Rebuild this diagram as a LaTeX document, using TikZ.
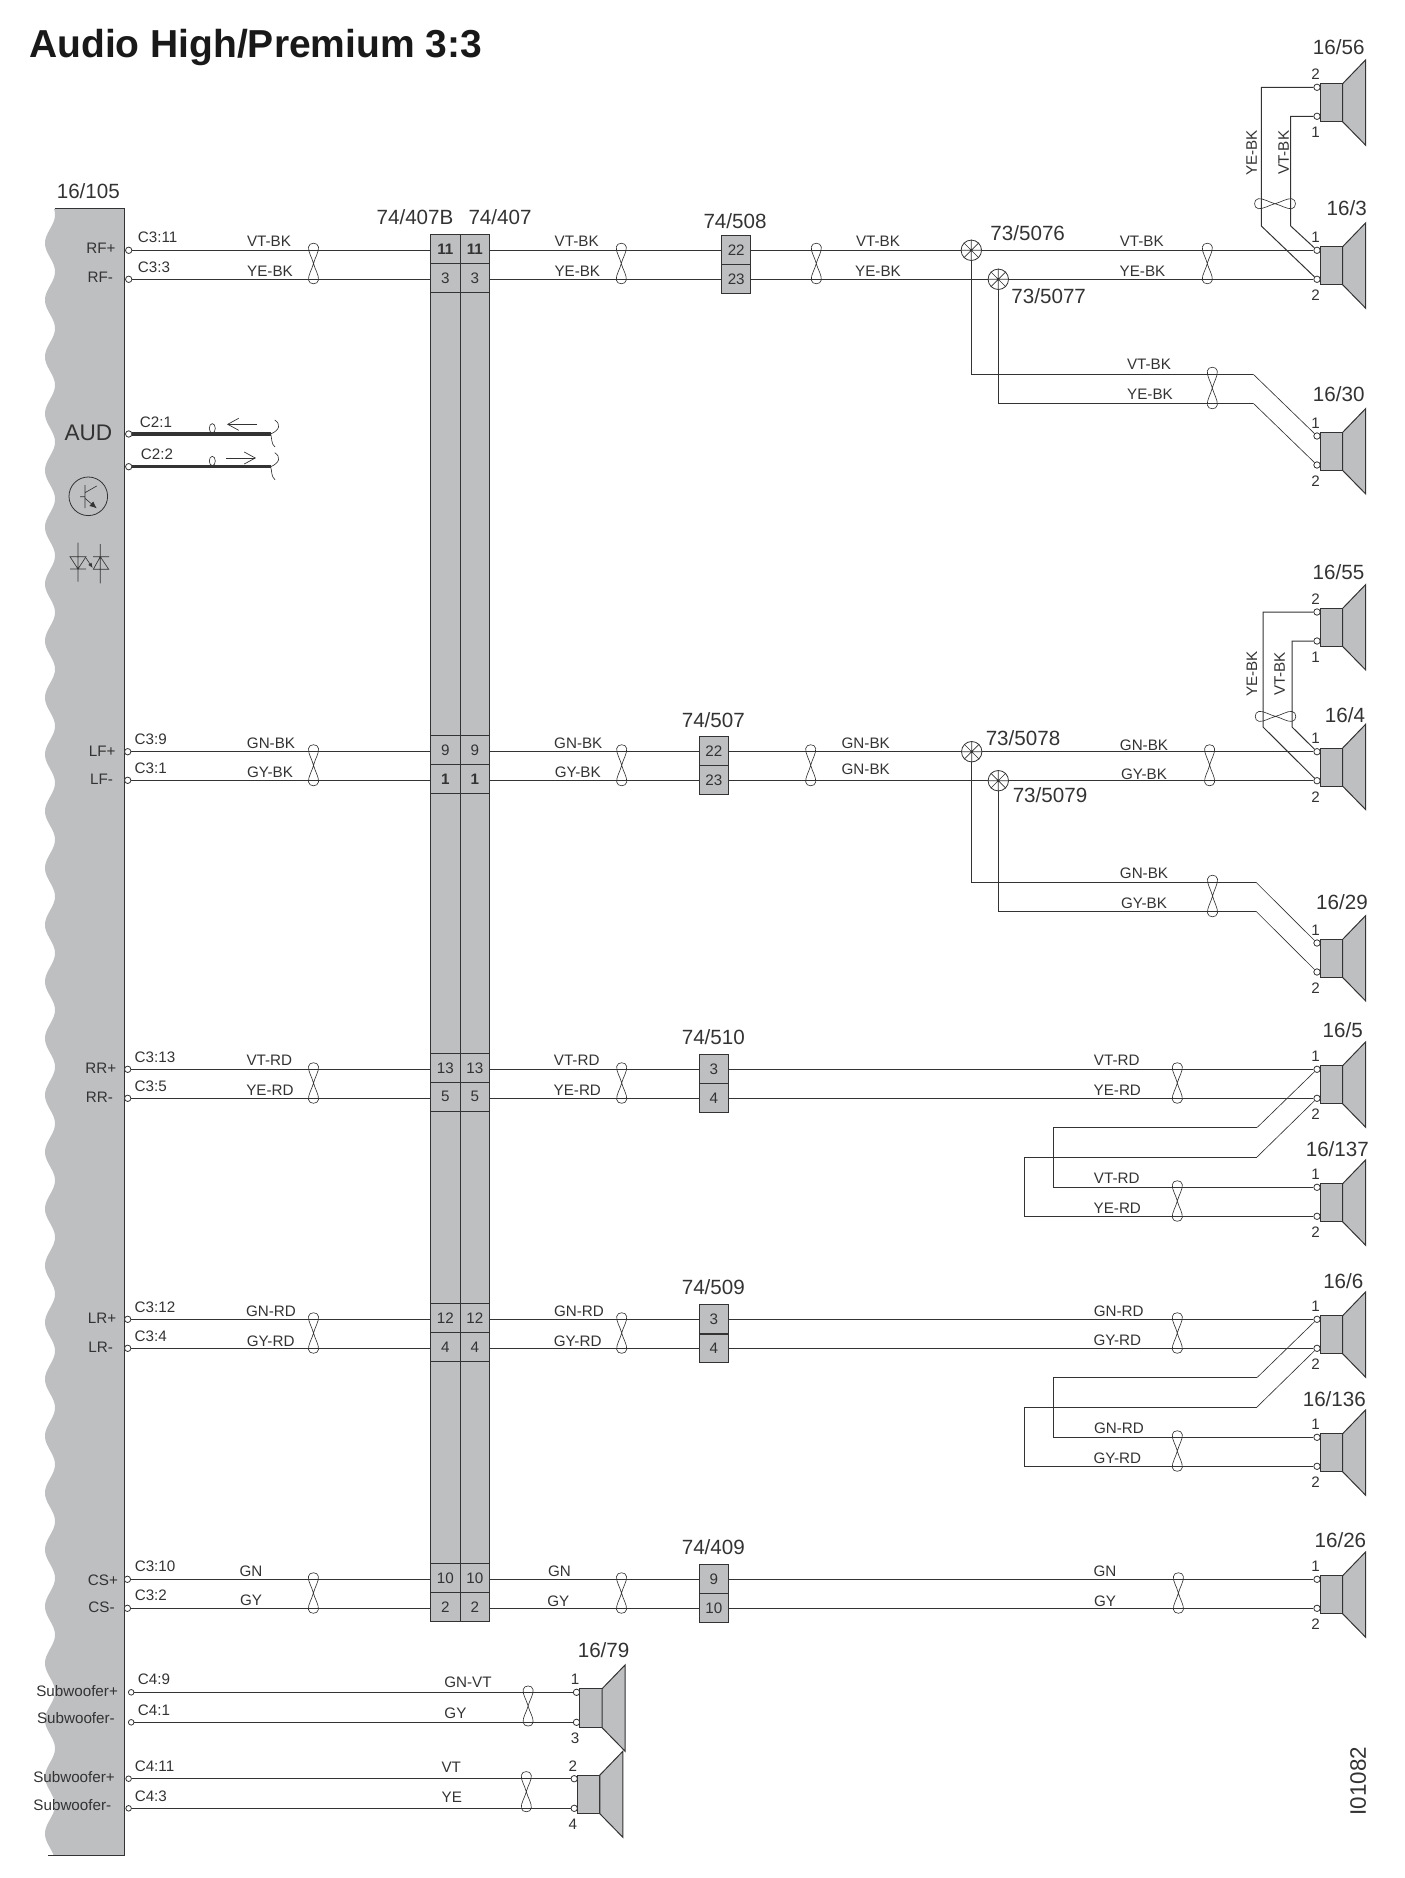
\documentclass[tikz,border=0pt]{standalone}
\usepackage{fontspec}
\setmainfont{Liberation Sans}
\usetikzlibrary{arrows.meta,calc}
\definecolor{pgray}{HTML}{BEBFC1}
\definecolor{ln}{HTML}{333333}
\tikzset{
  wire/.style={draw=ln,line width=0.5pt},
  thinw/.style={draw=ln,line width=0.32pt},
  part/.style={draw=ln,fill=pgray,line width=0.5pt},
  txs/.style={inner sep=0pt,text=ln,text depth=0pt,font=\fontsize{7.6}{9}\selectfont},
  txb/.style={inner sep=0pt,text=ln,text depth=0pt,font=\fontsize{10.3}{12}\selectfont},
  term/.style={circle,draw=ln,fill=white,inner sep=0pt,line width=0.4pt,minimum size=3.2pt},
  subterm/.style={term,minimum size=2.8pt},
  cellbox/.style={rectangle,draw=ln,fill=pgray,inner sep=0pt,line width=0.5pt,minimum width=14.5pt,minimum height=14.5pt,text=ln,font=\fontsize{7.6}{9}\selectfont},
  splice/.style={circle,draw=ln,fill=white,inner sep=0pt,line width=0.4pt,minimum size=10.2pt},
  oar/.style={draw=ln,line width=0.35pt,-{Straight Barb[length=5.5pt,width=6pt]}},
}
% vertical twist mark: x, top, bottom
\newcommand\twist[3]{%
  \pgfmathsetmacro\twm{(#2+#3)/2}%
  \draw[thinw] (#1,\twm) .. controls ({#1-1.5},{\twm-6}) and ({#1-5.5},{#2+9}) .. ({#1-5},{#2+4})
    .. controls ({#1-4.5},{#2-1}) and ({#1+4.5},{#2-1}) .. ({#1+5},{#2+4})
    .. controls ({#1+5.5},{#2+9}) and ({#1+1.5},{\twm-6}) .. (#1,\twm)
    .. controls ({#1-1.5},{\twm+6}) and ({#1-5.5},{#3-9}) .. ({#1-5},{#3-4})
    .. controls ({#1-4.5},{#3+1}) and ({#1+4.5},{#3+1}) .. ({#1+5},{#3-4})
    .. controls ({#1+5.5},{#3-9}) and ({#1+1.5},{\twm+6}) .. (#1,\twm);}
% horizontal twist mark: y, left, right
\newcommand\htwist[3]{%
  \pgfmathsetmacro\twm{(#2+#3)/2}%
  \draw[thinw] (\twm,#1) .. controls ({\twm-6},{#1-1.5}) and ({#2+9},{#1-5.5}) .. ({#2+4},{#1-5})
    .. controls ({#2-1},{#1-4.5}) and ({#2-1},{#1+4.5}) .. ({#2+4},{#1+5})
    .. controls ({#2+9},{#1+5.5}) and ({\twm-6},{#1+1.5}) .. (\twm,#1)
    .. controls ({\twm+6},{#1-1.5}) and ({#3-9},{#1-5.5}) .. ({#3-4},{#1-5})
    .. controls ({#3+1},{#1-4.5}) and ({#3+1},{#1+4.5}) .. ({#3-4},{#1+5})
    .. controls ({#3-9},{#1+5.5}) and ({\twm+6},{#1+1.5}) .. (\twm,#1);}
% speaker: name, body left, y of pin a, y of pin b, number a, number b
\newcommand\spk[6]{%
  \node[term] (#1-a) at ({#2-3},#3) {};
  \node[term] (#1-b) at ({#2-3},#4) {};
  \draw[part] (#2,{#3-3.7}) rectangle ({#2+22.7},{#4+5.5});
  \draw[part] ({#2+22.7},{#3-3.7}) -- ({#2+45.7},{#3-27.5}) -- ({#2+45.7},{#4+29}) -- ({#2+22.7},{#4+5.5}) -- cycle;
  \node[txs] (#1-na) at ({#2-4.3},{#3-13}) {#5};
  \node[txs] (#1-nb) at ({#2-4.3},{#4+16}) {#6};}
% row of the tall connector: id, wire y, number
\newcommand\bigrow[3]{%
  \node[cellbox,minimum width=14.9pt] (b#1) at (445.4,{#2-1.5}) {#3};
  \node[cellbox] (a#1) at (474.8,{#2-1.5}) {#3};}
% inline connector: name, centre x, y1, y2, n1, n2
\newcommand\inl[6]{%
  \node[cellbox] (#1-1) at (#2,{#3-0.5}) {#5};
  \node[cellbox] (#1-2) at (#2,{#4-0.5}) {#6};}
% splice: name, x, y
\newcommand\spl[3]{%
  \node[splice] (#1) at (#2,#3) {};
  \draw[thinw] (#1.45)--(#1.225) (#1.135)--(#1.315) (#1.north)--(#1.south) (#1.east)--(#1.west);}
\begin{document}
\begin{tikzpicture}[x=0.5pt,y=-0.5pt]
\useasboundingbox (0,0) rectangle (1404,1878);
% title
\node[anchor=west,inner sep=0pt,text depth=0pt,text=black!90,font=\fontsize{19.5}{22}\selectfont\bfseries] (title) at (28.8,43) {Audio High/Premium 3:3};
\node[rotate=90,inner sep=0pt,text=ln,text depth=0pt,font=\fontsize{11.2}{13}\selectfont] (code) at (1358,1781) {I01082};
% control module panel
\fill[pgray] (124.7,209) -- plot[domain=209:1855,samples=900] ({50-5*cos(6.338*(\x-300))},\x) -- (124.7,1855) -- cycle;
\draw[wire] (55,209) -- (124.7,209) -- (124.7,1855) -- (48,1855);
\node[txb] (n105) at (88.3,190.7) {16/105};
\node[anchor=east,inner sep=0pt,text=ln,text depth=0pt,font=\fontsize{11.3}{13}\selectfont] (aud) at (112.7,432.7) {AUD};
% transistor symbol
\node[circle,draw=ln,line width=0.4pt,minimum size=19.3pt,inner sep=0pt] (trans) at (88.3,496.3) {};
\draw[thinw] (85,485) -- (85,508) (80,496.7) -- (85,496.7) (85,492.7) -- (96.7,486);
\draw[thinw,-{Latex[length=3.5pt,width=3pt]}] (85,498.3) -- (96.7,508.3);
% opto symbol
\draw[thinw] (70,556.7) -- (86,556.7) -- (78,569) -- cycle (70,569) -- (86,569) (78,542.7) -- (78,581.7);
\draw[thinw] (93.3,569.3) -- (108.7,569.3) -- (100.3,556.7) -- cycle (93,556.7) -- (109,556.7) (100.3,544) -- (100.3,583.3);
\draw[thinw,-{Latex[length=2.5pt,width=2pt]}] (86,558) -- (92.7,568);
% panel labels
\foreach \nm/\tx/\ex/\yy in {a/RF+/116/248.7,b/RF-/113.3/277.7,c/LF+/116/751.7,d/LF-/113.3/779.3,e/RR+/116.7/1068.7,f/RR-/113.3/1097.3,g/LR+/116.7/1318.7,h/LR-/113.3/1347.3,i/CS+/118.3/1580,j/CS-/115/1607.3,k/Subwoofer+/118.3/1690.7,l/Subwoofer-/115.2/1718.3,m/Subwoofer+/115.2/1776.7,n/Subwoofer-/111.6/1804.7}
  {\node[txs,anchor=east] (p\nm) at (\ex,\yy) {\tx};}
\foreach \nm/\tx/\ex/\yy in {a/C3:11/137.5/236.7,b/C3:3/137.5/266.7,e/C2:1/139.5/421.7,f/C2:2/140.5/454.3,c/C3:9/134.3/739,d/C3:1/134.3/767.7,g/C3:13/134.3/1056.7,h/C3:5/134.3/1085.7,i/C3:12/134.3/1306.7,j/C3:4/134.3/1335.7,k/C3:10/134.4/1565.7,l/C3:2/134.4/1595,m/C4:9/137.5/1679.3,n/C4:1/137.5/1710,o/C4:11/134.4/1765.7,q/C4:3/134.4/1795.7}
  {\node[txs,anchor=west] (q\nm) at (\ex,\yy) {\tx};}
% module terminals
\node[term] (rfp) at (128.7,250.3) {};
\node[term] (rfn) at (128.7,279.3) {};
\node[term] (c21) at (128.7,434) {};
\node[term] (c22) at (128.7,466.7) {};
\node[term] (lfp) at (127.7,751.7) {};
\node[term] (lfn) at (127.7,780.3) {};
\node[term] (rrp) at (127.7,1069.3) {};
\node[term] (rrn) at (127.7,1098.3) {};
\node[term] (lrp) at (127.7,1319.3) {};
\node[term] (lrn) at (127.7,1348.3) {};
\node[term] (csp) at (127.4,1579.3) {};
\node[term] (csn) at (127.4,1608.3) {};
\node[subterm] (s1p) at (131.2,1692.3) {};
\node[subterm] (s1n) at (131.2,1722.3) {};
\node[subterm] (s2p) at (128.6,1778.7) {};
\node[subterm] (s2n) at (128.6,1808.3) {};
% AUD bus
\coordinate (e21) at (270.7,434);
\coordinate (e22) at (270.7,466.7);
\draw[draw=ln,line width=1.6pt] (c21) -- (e21);
\draw[draw=ln,line width=1.6pt] (c22) -- (e22);
\draw[thinw] (212.3,428.3) ellipse [x radius=3,y radius=4.7];
\draw[thinw] (212.3,461) ellipse [x radius=3,y radius=4.7];
\coordinate (al1) at (257,424.3); \coordinate (al2) at (227,424.3);
\coordinate (ar1) at (226,458); \coordinate (ar2) at (256,458);
\draw[oar] (al1) -- (al2);
\draw[oar] (ar1) -- (ar2);
\draw[thinw] (274.7,420) .. controls (281,424) and (280,430) .. (e21) .. controls (272,438) and (271,444) .. (275,447);
\draw[thinw] (274.7,452.7) .. controls (281,456.7) and (280,462.7) .. (e22) .. controls (272,470.7) and (271,476.7) .. (275,479.7);
% tall connector
\draw[part] (430.5,234.3) rectangle (489.3,1621.3);
\draw[wire] (460.3,234.3) -- (460.3,1621.3);
\node[txb] (n407b) at (415,216.7) {74/407B};
\node[txb] (n407) at (500,216.7) {74/407};
\bigrow{11}{250.3}{\textbf{11}}
\bigrow{3}{279.3}{3}
\bigrow{9}{751.7}{9}
\bigrow{1}{780.7}{\textbf{1}}
\bigrow{13}{1069.3}{13}
\bigrow{5}{1098.3}{5}
\bigrow{12}{1319.3}{12}
\bigrow{4}{1348.3}{4}
\bigrow{10}{1579.3}{10}
\bigrow{2}{1608.3}{2}
% inline connectors
\inl{c508}{736.2}{250.3}{279.3}{22}{23}
\inl{c507}{713.8}{751.7}{780.7}{22}{23}
\inl{c510}{713.8}{1069.3}{1098.3}{3}{4}
\inl{c509}{713.8}{1319.3}{1348.3}{3}{4}
\inl{c409}{713.8}{1579.3}{1608.3}{9}{10}
\draw[draw=ln,line width=1pt] (c509-1.south west) -- (c509-1.south east);
\node[txb] (n508) at (735,220.7) {74/508};
\node[txb] (n507) at (713.3,720) {74/507};
\node[txb] (n510) at (713.3,1037.3) {74/510};
\node[txb] (n509) at (713.3,1287.3) {74/509};
\node[txb] (n409) at (713.3,1546.7) {74/409};
% splices
\spl{s5076}{971.3}{250.3}
\spl{s5077}{998.3}{279.3}
\spl{s5078}{971.7}{751.7}
\spl{s5079}{998.3}{780.7}
\node[txb] (n5076) at (1027.7,233.3) {73/5076};
\node[txb] (n5077) at (1048.7,295.7) {73/5077};
\node[txb] (n5078) at (1023,738.5) {73/5078};
\node[txb] (n5079) at (1050,794.6) {73/5079};
% speakers
\spk{s56}{1320}{87.3}{116.3}{2}{1}
\spk{s3}{1320}{250.3}{279.3}{1}{2}
\spk{s30}{1320}{436}{465}{1}{2}
\spk{s55}{1320}{612}{641}{2}{1}
\spk{s4}{1320}{751.7}{780.7}{1}{2}
\spk{s29}{1320}{943}{972}{1}{2}
\spk{s5}{1320}{1069.3}{1098.3}{1}{2}
\spk{s137}{1320}{1187.3}{1216.3}{1}{2}
\spk{s6}{1320}{1319.3}{1348.3}{1}{2}
\spk{s136}{1320}{1437.3}{1466.3}{1}{2}
\spk{s26}{1320}{1579.3}{1608.3}{1}{2}
\spk{s79}{579.5}{1692.3}{1722.3}{1}{3}
\spk{sx}{577.2}{1778.7}{1808.3}{2}{4}
\node[txb] (n56) at (1338.7,47.3) {16/56};
\node[txb] (n3) at (1346.7,207.7) {16/3};
\node[txb] (n30) at (1338.7,394.3) {16/30};
\node[txb] (n55) at (1338.5,572) {16/55};
\node[txb] (n4) at (1345,715) {16/4};
\node[txb] (n29) at (1342,902.5) {16/29};
\node[txb] (n5) at (1342.7,1030.5) {16/5};
\node[txb] (n137) at (1337.3,1148.7) {16/137};
\node[txb] (n6) at (1343.3,1280.7) {16/6};
\node[txb] (n136) at (1334.3,1398.7) {16/136};
\node[txb] (n26) at (1340.4,1540) {16/26};
\node[txb] (n79) at (603.6,1650) {16/79};
% wires: module to tall connector
\foreach \t/\c in {rfp/11,rfn/3,lfp/9,lfn/1,rrp/13,rrn/5,lrp/12,lrn/4,csp/10,csn/2}
  {\draw[wire] (\t) -- (\t -| b\c.west);}
% wires: tall connector to inline connectors
\foreach \t/\c/\k in {rfp/11/c508-1,rfn/3/c508-2,lfp/9/c507-1,lfn/1/c507-2,rrp/13/c510-1,rrn/5/c510-2,lrp/12/c509-1,lrn/4/c509-2,csp/10/c409-1,csn/2/c409-2}
  {\draw[wire] (a\c.east |- \t) -- (\k.west |- \t);}
% wires: inline connectors onward
\draw[wire] (c508-1.east |- rfp) -- (s5076.west);
\draw[wire] (c508-2.east |- rfn) -- (s5077.west);
\draw[wire] (s5076.east) -- (s3-a);
\draw[wire] (s5077.east) -- (s3-b);
\draw[wire] (c507-1.east |- lfp) -- (s5078.west);
\draw[wire] (c507-2.east |- s5079) -- (s5079.west);
\draw[wire] (s5078.east) -- (s4-a);
\draw[wire] (s5079.east) -- (s4-b);
\draw[wire] (c510-1.east |- rrp) -- (s5-a);
\draw[wire] (c510-2.east |- rrn) -- (s5-b);
\draw[wire] (c509-1.east |- lrp) -- (s6-a);
\draw[wire] (c509-2.east |- lrn) -- (s6-b);
\draw[wire] (c409-1.east |- csp) -- (s26-a);
\draw[wire] (c409-2.east |- csn) -- (s26-b);
\draw[wire] (s1p) -- (s79-a);
\draw[wire] (s1n) -- (s79-b);
\draw[wire] (s2p) -- (sx-a);
\draw[wire] (s2n) -- (sx-b);
% front branches
\coordinate (r1) at (1261.3,226); \coordinate (r2) at (1290.7,226);
\draw[wire] (s56-a) -| (r1) -- (s3-b);
\draw[wire] (s56-b) -| (r2) -- (s3-a);
\coordinate (l1) at (1263,727); \coordinate (l2) at (1292,727);
\draw[wire] (s55-a) -| (l1) -- (s4-b);
\draw[wire] (s55-b) -| (l2) -- (s4-a);
\coordinate (r3) at (1253.3,374.3); \coordinate (r4) at (1253.3,403.3);
\draw[wire] (s5076.south) |- (r3);
\draw[wire] (s5077.south) |- (r4);
\draw[thinw] (r3) -- (s30-a);
\draw[thinw] (r4) -- (s30-b);
\coordinate (l3) at (1256,882.3); \coordinate (l4) at (1256,911.3);
\draw[wire] (s5078.south) |- (l3);
\draw[wire] (s5079.south) |- (l4);
\draw[thinw] (l3) -- (s29-a);
\draw[thinw] (l4) -- (s29-b);
% rear branches
\coordinate (k1) at (1257.3,1127.3); \coordinate (k2) at (1053.3,1187.3);
\coordinate (k3) at (1256.7,1157.3); \coordinate (k4) at (1024.3,1216.3);
\draw[thinw] (s5-a) -- (k1);
\draw[thinw] (s5-b) -- (k3);
\draw[wire] (k1) -| (k2) -- (s137-a);
\draw[wire] (k3) -| (k4) -- (s137-b);
\coordinate (k5) at (1257.3,1377.3); \coordinate (k6) at (1053.3,1437.3);
\coordinate (k7) at (1256.7,1407.3); \coordinate (k8) at (1024.3,1466.3);
\draw[thinw] (s6-a) -- (k5);
\draw[thinw] (s6-b) -- (k7);
\draw[wire] (k5) -| (k6) -- (s136-a);
\draw[wire] (k7) -| (k8) -- (s136-b);
% twist marks
\foreach \x/\a/\b in {313.5/243/284,621.3/243/284,816.3/243/284,1207.3/243/284,1212.3/367/409,
  313.5/744.5/786,621.7/744.5/786,810.7/744.5/786,1209.6/744.5/786,1212.5/875/917,
  313.5/1062.5/1103.5,621.7/1062.5/1103.5,1177.3/1062.5/1103.5,1177.3/1180.5/1221.5,
  313.5/1312.5/1353.5,621.7/1312.5/1353.5,1177.3/1312.5/1353.5,1177.3/1430.5/1471.5,
  313.4/1572.5/1613.5,621.5/1572.5/1613.5,1178.4/1572.5/1613.5,
  528.1/1685.7/1726.3,526.3/1771.3/1812}
  {\twist{\x}{\a}{\b}}
\htwist{203.7}{1254.3}{1295.7}
\htwist{716.4}{1255}{1296}
% wire colour labels
\foreach \nm/\tx/\ex/\yy in {
  a1/VT-BK/269/241.7,a2/YE-BK/270/271,a3/VT-BK/576.7/241.7,a4/YE-BK/577.3/271,a5/VT-BK/878/241.7,a6/YE-BK/878/271,a7/VT-BK/1141.7/241.7,a8/YE-BK/1142.5/271,a9/VT-BK/1149/364.3,a10/YE-BK/1150/394.3,
  b1/GN-BK/271/743.3,b2/GY-BK/270/772.3,b3/GN-BK/578.3/743.3,b4/GY-BK/577.7/772.3,b5/GN-BK/865.7/743.3,b6/GN-BK/865.7/769.3,b7/GN-BK/1144/745,b8/GY-BK/1144/774,b9/GN-BK/1144/873.6,b10/GY-BK/1144/903.6,
  c1/VT-RD/269.3/1060.7,c2/YE-RD/270/1090.7,c3/VT-RD/576.7/1060.7,c4/YE-RD/577.3/1090.7,c5/VT-RD/1116.7/1060.7,c6/YE-RD/1117.3/1090.3,c7/VT-RD/1116.7/1178.3,c8/YE-RD/1117.3/1208.3,
  d1/GN-RD/271/1310.7,d2/GY-RD/270.7/1340.7,d3/GN-RD/579/1310.7,d4/GY-RD/577.7/1340.7,d5/GN-RD/1118.7/1310.7,d6/GY-RD/1117.3/1340.3,d7/GN-RD/1119/1428.3,d8/GY-RD/1117.3/1458.3,
  e1/GN/251/1570.7,e2/GY/251/1600,e3/GN/559.4/1570.7,e4/GY/558.3/1600.7,e5/GN/1105/1571,e6/GY/1105/1601,
  f1/GN-VT/467.9/1681.7,f2/GY/455.4/1713.3,f3/VT/451.3/1767.7,f4/YE/451.8/1797.7}
  {\node[txs] (w\nm) at (\ex,\yy) {\tx};}
\node[txs,rotate=90] (vr1) at (1251.7,152.7) {YE-BK};
\node[txs,rotate=90] (vr2) at (1283.7,152.7) {VT-BK};
\node[txs,rotate=90] (vl1) at (1252,674) {YE-BK};
\node[txs,rotate=90] (vl2) at (1279.6,674) {VT-BK};
\end{tikzpicture}
\end{document}
